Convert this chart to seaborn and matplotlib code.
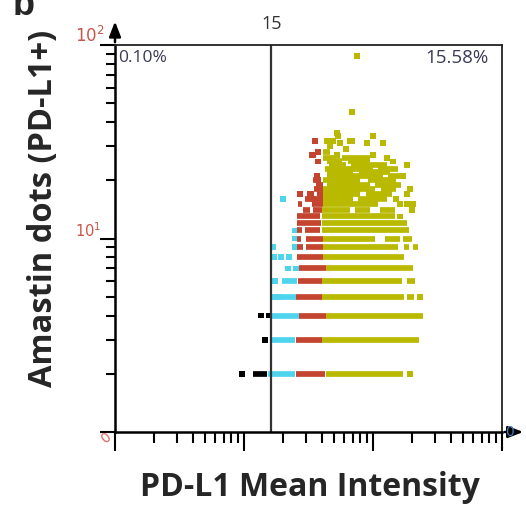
import numpy as np
import pandas as pd
import matplotlib
matplotlib.use("Agg")
import matplotlib.pyplot as plt
import seaborn as sns

# row segments: (amastin dots, x start, x end)
black_segments = [(2, 11.7, 15.1)]
cyan_segments = [(2, 15.3, 24.9), (3, 16.5, 24.9), (4, 16.5, 26.7),
                 (5, 19.0, 25.3), (6, 19.7, 25.8)]
red_segments = [(2, 25.3, 42.4), (3, 25.3, 40.2), (4, 26.7, 43.2), (5, 25.3, 40.2),
                (6, 26.2, 40.2), (7, 26.7, 43.2), (8, 25.8, 40.9),
                (9, 25.8, 28.6), (9, 30.2, 40.9), (10, 25.8, 27.6), (10, 30.2, 40.9),
                (11, 25.8, 28.1), (11, 29.7, 38.9), (12, 25.8, 39.6), (13, 25.8, 38.9),
                (14, 28.6, 32.5), (14, 34.3, 40.2), (15, 26.2, 28.1), (15, 33.4, 40.9),
                (16, 29.7, 40.9), (17, 32.0, 35.0), (17, 37.0, 40.9),
                (18, 35.0, 40.9), (19, 36.0, 40.9), (20, 34.3, 38.9)]
yellow_segments = [(2, 43.2, 171), (3, 40.2, 227), (4, 43.2, 244),
                   (5, 40.2, 174), (5, 184, 209), (6, 40.2, 168), (6, 184, 212),
                   (7, 43.2, 205), (8, 40.9, 174),
                   (9, 40.9, 156), (9, 174, 191), (9, 205, 222),
                   (10, 40.9, 104), (10, 124, 162), (10, 171, 202),
                   (11, 40.2, 191), (12, 40.2, 184), (13, 40.2, 147),
                   (14, 40.2, 66), (14, 72, 95), (14, 113, 147),
                   (15, 40.9, 110), (16, 40.9, 70), (16, 76, 128),
                   (17, 40.9, 79), (17, 88, 140), (18, 40.9, 104), (18, 115, 150),
                   (19, 44, 95), (19, 103, 165), (20, 40.9, 80), (20, 92, 150),
                   (21, 44, 120), (21, 130, 170), (22, 44, 70), (22, 78, 135),
                   (23, 42.4, 100), (23, 110, 155), (24, 46, 62), (24, 68, 128),
                   (25, 44, 58), (25, 64, 95), (26, 41, 52), (26, 58, 95),
                   (28, 40.9, 46.5)]

# single dots: (PD-L1 intensity, amastin dots)
black_points = [(9.6, 2), (14.5, 3), (13.5, 4), (15.6, 4)]
cyan_points = [(17.1, 5), (18.3, 5), (17.4, 6), (21.9, 7), (25.3, 7), (17.0, 8),
               (19.4, 8), (22.4, 8), (16.8, 9), (24.9, 9), (24.9, 10), (24.9, 11),
               (20.1, 16)]
red_points = [(35.6, 32), (34.3, 27), (37.5, 28), (33.4, 27), (37.5, 25), (36.8, 21),
              (37.5, 20), (27.1, 17), (32.5, 17), (34.3, 16)]
yellow_points = [(194, 2), (232, 5), (162, 13), (202, 14), (162, 15), (184, 15),
                 (205, 15), (150, 16), (184, 17), (194, 18), (171, 21), (184, 24),
                 (142, 25), (128.5, 26), (52.8, 27), (100, 27), (62, 29), (44, 32),
                 (69, 32), (49, 32), (66.5, 32), (55.8, 31), (90, 31), (119, 31),
                 (46.5, 30), (53.8, 34), (100, 34), (52.8, 35), (69, 45), (75.3, 88)]

gate_x = 16.2
gate_label = "15"
quad_left = "0.10%"
quad_right = "15.58%"

colors = {"black": "#000000", "cyan": "#4fd4ee", "red": "#c4442f", "yellow": "#b9b900"}

rows = []
for name, pts in [("black", black_points), ("cyan", cyan_points),
                  ("red", red_points), ("yellow", yellow_points)]:
    for x, y in pts:
        rows.append({"x": x, "y": y, "group": name})
df = pd.DataFrame(rows)

sns.set_style("white")
fig = plt.figure(figsize=(5.26, 5.12), dpi=100)
W, H = 526, 512
ax = fig.add_axes([115 / W, 1 - 432 / H, (502 - 115) / W, (432 - 45) / H])

for name, segs in [("black", black_segments), ("cyan", cyan_segments),
                   ("red", red_segments), ("yellow", yellow_segments)]:
    s = np.array(segs, dtype=float)
    ax.hlines(s[:, 0], s[:, 1], s[:, 2], colors=colors[name], linewidth=4.1)

sns.scatterplot(data=df, x="x", y="y", hue="group", palette=colors, marker="s",
                s=18, linewidth=0, legend=False, ax=ax)

ax.set_xscale("log")
ax.set_yscale("log")
ax.set_xlim(1, 1000)
ax.set_ylim(1, 100)
ax.set_xlabel("")
ax.set_ylabel("")
ax.axvline(gate_x, color="#333333", linewidth=1.6)

ax.xaxis.set_minor_locator(matplotlib.ticker.LogLocator(base=10, subs=np.arange(2, 10)))
ax.yaxis.set_minor_locator(matplotlib.ticker.LogLocator(base=10, subs=np.arange(2, 10)))
ax.tick_params(axis="both", which="both", direction="out", labelleft=False,
               labelbottom=False, left=True, bottom=True, color="black")
ax.tick_params(axis="x", which="major", length=14, width=1.5)
ax.tick_params(axis="x", which="minor", length=8, width=1.5)
ax.tick_params(axis="y", which="major", length=11, width=1.5)
ax.tick_params(axis="y", which="minor", length=6.5, width=1.5)

for side in ["left", "bottom"]:
    ax.spines[side].set_linewidth(1.8)
    ax.spines[side].set_color("black")
for side in ["top", "right"]:
    ax.spines[side].set_linewidth(1.3)
    ax.spines[side].set_color("#222222")

# axis arrows
ax.annotate("", xy=(0, 1.068), xytext=(0, 1.0), xycoords="axes fraction",
            arrowprops=dict(arrowstyle="-|>,head_length=0.9,head_width=0.35",
                            color="black", lw=1.8), annotation_clip=False)
ax.annotate("", xy=(1.062, 0), xytext=(1.0, 0), xycoords="axes fraction",
            arrowprops=dict(arrowstyle="-|>,head_length=0.9,head_width=0.35",
                            color="black", lw=1.8), annotation_clip=False)

def px(x, y):
    return x / W, 1 - y / H

lab_red = "#c8554a"
fig.text(*px(90, 36), r"$\mathregular{10^2}$", color=lab_red, fontsize=12,
         ha="center", va="center", family="DejaVu Sans")
fig.text(*px(88, 231), r"$\mathregular{10^1}$", color=lab_red, fontsize=10.5,
         ha="center", va="center", family="DejaVu Sans")
fig.text(*px(106, 438), "0", color="#e06060", fontsize=10, rotation=40,
         ha="center", va="center")
fig.text(*px(510, 432), "0", color="#4a7ab8", fontsize=10, ha="center", va="center")

fig.text(*px(272, 24), gate_label, color="#333333", fontsize=13, ha="center",
         va="center", family="Open Sans")
fig.text(*px(118, 58), quad_left, color="#3a3a55", fontsize=12.5, ha="left",
         va="center", family="Open Sans")
fig.text(*px(489, 58), quad_right, color="#3a3a55", fontsize=13.5, ha="right",
         va="center", family="Open Sans")

fig.text(*px(310, 488), "PD-L1 Mean Intensity", fontsize=23, fontweight="bold",
         ha="center", va="center", family="Open Sans")
fig.text(*px(44, 208), "Amastin dots (PD-L1+)", fontsize=23.5, fontweight="bold",
         ha="center", va="center", rotation=90, family="Open Sans")
fig.text(*px(13, 15), "b", fontsize=26, fontweight="bold", ha="left",
         va="baseline", family="Liberation Sans")

fig.savefig("out.png", dpi=100)
